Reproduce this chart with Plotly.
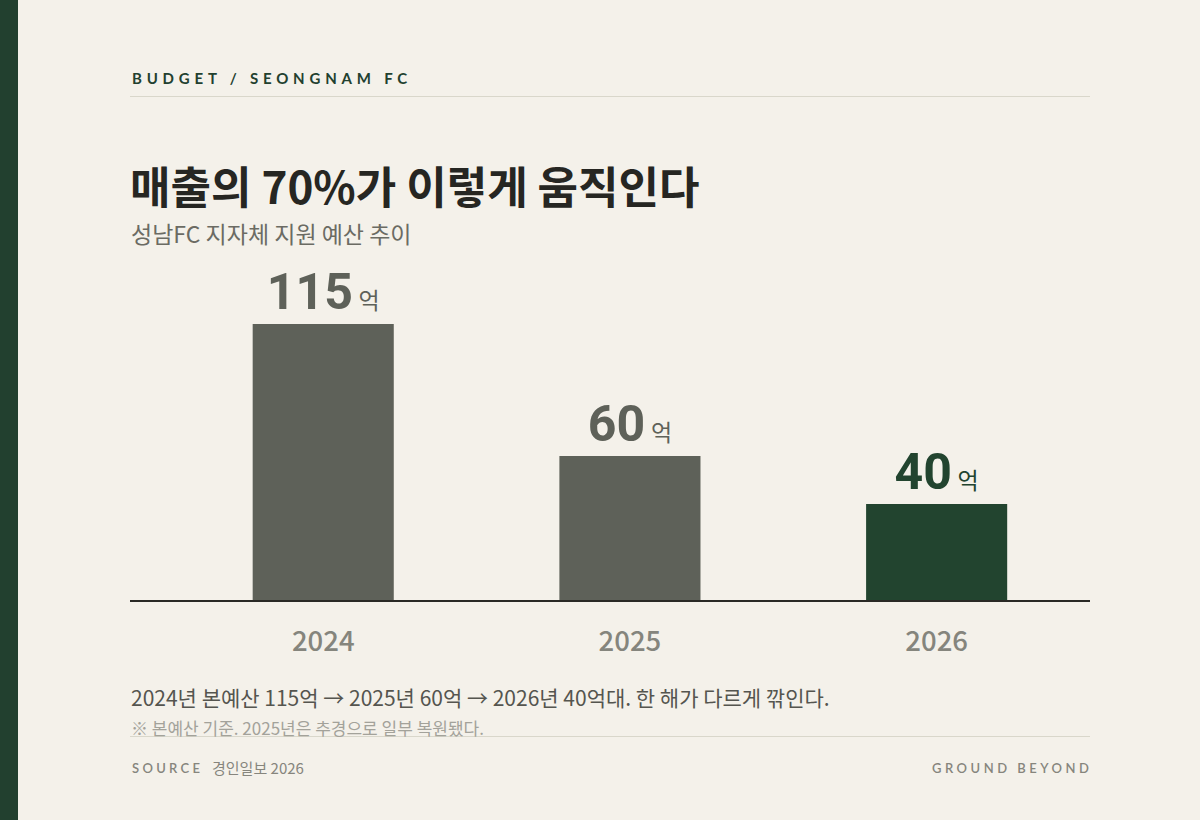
import plotly.graph_objects as go

years = ['2024', '2025', '2026']
budget = [115, 60, 40]
unit = '억'
bar_colors = ['#5e6159', '#5e6159', '#22442f']

kicker = 'BUDGET / SEONGNAM FC'
title = '매출의 70%가 이렇게 움직인다'
subtitle = '성남FC 지자체 지원 예산 추이'
caption = '2024년 본예산 115억 → 2025년 60억 → 2026년 40억대. 한 해가 다르게 깎인다.'
note = '※ 본예산 기준. 2025년은 추경으로 일부 복원됐다.'
source_label = 'SOURCE'
source_text = '경인일보 2026'
brand = 'GROUND BEYOND'

BG = '#f4f1ea'
KR = 'Noto Sans CJK KR'

# plot area: x 130..1090, y 260..600 (pixels)
L, R, T, B = 130, 110, 260, 220
PW, PH = 1200 - L - R, 820 - T - B


def px(x):
    return (x - L) / PW


def py(y):
    return (820 - B - y) / PH


labels = [f"<b>{v}</b><span style='font-size:23px;font-weight:400'> {unit}</span>" for v in budget]

fig = go.Figure()
fig.add_trace(go.Bar(
    x=years, y=budget, width=0.46, marker=dict(color=bar_colors, line=dict(width=0)),
    text=labels, textposition='outside', cliponaxis=False,
    outsidetextfont=dict(family='Roboto, ' + KR, size=50, color=bar_colors),
    hoverinfo='skip',
))

fig.update_layout(
    width=1200, height=820, margin=dict(l=L, r=R, t=T, b=B),
    paper_bgcolor=BG, plot_bgcolor=BG, showlegend=False,
    font=dict(family=KR, color='#262622'),
)
fig.update_xaxes(type='category', range=[-0.63, 2.5], showgrid=False, zeroline=False,
                 showline=True, linecolor='#2a2a26', linewidth=2, ticks='',
                 tickfont=dict(family=KR, size=27.5, color='#85857d', weight=500),
                 ticklabelstandoff=16, fixedrange=True)
fig.update_yaxes(range=[0, PH / 2.4], visible=False, fixedrange=True)

# left accent strip and rules
fig.add_shape(type='rect', xref='paper', yref='paper', x0=px(0), x1=px(18), y0=py(820), y1=py(0),
              fillcolor='#22402f', line=dict(width=0), layer='below')
for yy in (96.5, 736.5):
    fig.add_shape(type='line', xref='paper', yref='paper', x0=0, x1=1, y0=py(yy), y1=py(yy),
                  line=dict(color='#d9d7cb', width=1))

def note_at(text, x, y, size, color, anchor='left', family=KR, spacing=None, weight=None):
    if spacing:
        text = f"<span style='letter-spacing:{spacing}px'>{text}</span>"
    f = dict(family=family, size=size, color=color)
    if weight:
        f['weight'] = weight
    fig.add_annotation(text=text, xref='paper', yref='paper', x=px(x), y=py(y),
                       xanchor=anchor, yanchor='middle', showarrow=False, font=f)

note_at(kicker, 130, 78, 15, '#22402f', family='Lato, ' + KR, spacing=4.8, weight=700)
note_at(title, 128, 185, 44, '#262622', weight=700)
note_at(subtitle, 129, 233, 23, '#6b6b63')
note_at(caption, 129, 697, 21, '#55554f')
note_at(note, 129, 727, 17, '#a3a29a')
note_at(source_label, 130, 768, 13, '#86857d', family='Lato, ' + KR, spacing=3.3, weight=600)
note_at(source_text, 210, 767, 15, '#86857d')
note_at(brand, 1094, 768, 13, '#86857d', anchor='right', family='Lato, ' + KR, spacing=3.5, weight=600)

fig.write_html('out.html', config={'displayModeBar': False},
               post_script="document.body.style.margin='0';document.body.style.overflow='hidden';")
